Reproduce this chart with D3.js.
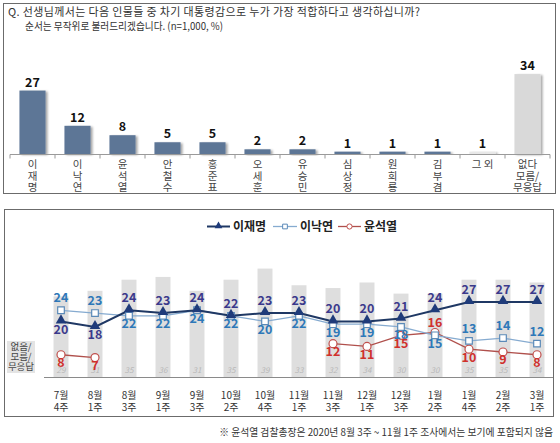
<!DOCTYPE html>
<html><head><meta charset="utf-8">
<script src="https://cdn.jsdelivr.net/npm/d3@7"></script>
<style>
html,body{margin:0;padding:0;background:#fff;}
text{font-family:"Noto Sans CJK KR","Noto Sans",sans-serif;}
</style></head>
<body>
<svg id="chart" width="560" height="443"></svg>
<script>
// ---------- Data ----------
const questionLines = ["Q. 선생님께서는 다음 인물들 중 차기 대통령감으로 누가 가장 적합하다고 생각하십니까?",
                       "순서는 무작위로 불러드리겠습니다. (n=1,000, %)"];
const topCategories = ["이재명","이낙연","윤석열","안철수","홍준표","오세훈","유승민","심상정","원희룡","김부겸","그 외","없다/모름/무응답"];
const topValues = [27,12,8,5,5,2,2,1,1,1,1,34];

const periods = ["7월 4주","8월 1주","8월 3주","9월 1주","9월 3주","10월 2주","10월 4주","11월 1주","11월 3주","12월 1주","12월 3주","1월 2주","1월 4주","2월 2주","3월 1주"];
const leeJM   = [20,18,24,23,24,22,23,23,20,20,21,24,27,27,27];
const leeNY   = [24,23,22,22,24,22,20,22,19,19,18,15,13,14,12];
const yoonSY  = [8,7,null,null,null,null,null,null,12,11,15,16,10,9,8];
const noneVal = [29,31,35,36,31,35,39,33,32,34,30,30,35,35,34];
const seriesNames = ["이재명","이낙연","윤석열"];
const footnote = "※ 윤석열 검찰총장은 2020년 8월 3주 ~ 11월 1주 조사에서는 보기에 포함되지 않음";

// ---------- Setup ----------
const svg = d3.select("#chart");
const defs = svg.append("defs");
const f = defs.append("filter").attr("id","sh").attr("x","-20%").attr("y","-20%").attr("width","150%").attr("height","150%");
f.append("feDropShadow").attr("dx",2).attr("dy",1).attr("stdDeviation",1).attr("flood-color","#000").attr("flood-opacity",0.35);

svg.append("rect").attr("width",560).attr("height",443).attr("fill","#fff");

// ---------- Top panel ----------
svg.append("rect").attr("x",3.5).attr("y",3.5).attr("width",552).attr("height",190)
  .attr("fill","none").attr("stroke","#6b6b6b").attr("stroke-width",1);

svg.append("text").attr("x",8).attr("y",16).attr("font-size",11).attr("fill","#333")
  .attr("textLength",412).attr("lengthAdjust","spacing").text(questionLines[0]);
svg.append("text").attr("x",25).attr("y",30).attr("font-size",10.5).attr("fill","#333")
  .attr("textLength",198).attr("lengthAdjust","spacingAndGlyphs").text(questionLines[1]);

const xT = d3.scaleBand().domain(topCategories).range([10,550]).paddingInner(0.42).paddingOuter(0.21);
const yT = d3.scaleLinear().domain([0,40]).range([154,60]);

const barFill = (d,i) => i === 10 ? "#e8e8e8" : (i === 11 ? "#d9d9d9" : "#5d7696");
svg.append("g").selectAll("rect").data(topValues).join("rect")
  .attr("x",(d,i)=>xT(topCategories[i]))
  .attr("y",d=>yT(d))
  .attr("width",xT.bandwidth())
  .attr("height",d=>yT(0)-yT(d))
  .attr("fill",barFill)
  .attr("filter","url(#sh)");

svg.append("g").selectAll("text").data(topValues).join("text")
  .attr("x",(d,i)=>xT(topCategories[i])+xT.bandwidth()/2)
  .attr("y",d=>yT(d)-4)
  .attr("text-anchor","middle").attr("font-size",12.5).attr("font-weight",700).attr("fill","#111")
  .text(d=>d);

// axis line + ticks
const axT = svg.append("g");
axT.append("line").attr("x1",10).attr("x2",550).attr("y1",154.5).attr("y2",154.5).attr("stroke","#9a9a9a");
axT.selectAll("line.tk").data(d3.range(topCategories.length+1)).join("line").attr("class","tk")
  .attr("x1",i=>10+xT.step()*i).attr("x2",i=>10+xT.step()*i)
  .attr("y1",154.5).attr("y2",158.5).attr("stroke","#9a9a9a");

// category labels (vertical stacking)
const catG = svg.append("g").attr("font-size",10.5).attr("fill","#444").attr("text-anchor","middle");
topCategories.forEach((c,i)=>{
  const cx = xT(c)+xT.bandwidth()/2;
  let lines;
  if (c === "그 외") lines = ["그 외"];
  else if (c.includes("/")) lines = ["없다","모름/","무응답"];
  else lines = c.split("");
  const t = catG.append("text").attr("x",cx).attr("y",168);
  lines.forEach((l,k)=>t.append("tspan").attr("x",cx).attr("y",168+k*11.5).text(l));
});

// ---------- Bottom panel ----------
svg.append("rect").attr("x",4.5).attr("y",209.5).attr("width",549).attr("height",207)
  .attr("fill","none").attr("stroke","#6b6b6b").attr("stroke-width",1);

const xB = d3.scaleBand().domain(periods).range([44,554]).paddingInner(0.56).paddingOuter(0.28);
const yB = d3.scaleLinear().domain([0,50]).range([377,238]);
const cx = i => xB(periods[i]) + xB.bandwidth()/2;

// gray bars
svg.append("g").selectAll("rect").data(noneVal).join("rect")
  .attr("x",(d,i)=>xB(periods[i])).attr("y",d=>yB(d))
  .attr("width",xB.bandwidth()).attr("height",d=>yB(0)-yB(d))
  .attr("fill","#dedede");
svg.append("g").selectAll("text").data(noneVal).join("text")
  .attr("x",(d,i)=>cx(i)).attr("y",373)
  .attr("text-anchor","middle").attr("font-size",8).attr("font-style","italic").attr("fill","#b8b8b8")
  .text(d=>d);

svg.append("line").attr("x1",44).attr("x2",553).attr("y1",377.5).attr("y2",377.5).attr("stroke","#8a8a8a");

// left label
svg.append("rect").attr("x",7).attr("y",341).attr("width",28).attr("height",32).attr("fill","#e4e4e4");
const ll = svg.append("text").attr("font-size",9.5).attr("fill","#444").attr("text-anchor","middle");
["없음/","모름/","무응답"].forEach((l,k)=>ll.append("tspan").attr("x",21).attr("y",350+k*10).text(l));

// x labels
const xl = svg.append("g").attr("font-size",10).attr("fill","#333").attr("text-anchor","middle");
periods.forEach((p,i)=>{
  const parts = p.split(" ");
  const t = xl.append("text");
  parts.forEach((s,k)=>t.append("tspan").attr("x",cx(i)).attr("y",399+k*12).text(s));
});

// lines
const lineGen = d3.line().defined(d=>d!=null).x((d,i)=>cx(i)).y(d=>yB(d));
svg.append("path").datum(yoonSY).attr("d",lineGen).attr("fill","none").attr("stroke","#b0504c").attr("stroke-width",1.3);
svg.append("path").datum(leeNY).attr("d",lineGen).attr("fill","none").attr("stroke","#86abd0").attr("stroke-width",1.3);
svg.append("path").datum(leeJM).attr("d",lineGen).attr("fill","none").attr("stroke","#1f3864").attr("stroke-width",2);

const tri = d3.symbol().type(d3.symbolTriangle).size(48);
const sq = d3.symbol().type(d3.symbolSquare).size(44);

// yoon markers
svg.append("g").selectAll("circle").data(yoonSY.map((v,i)=>({v,i})).filter(d=>d.v!=null)).join("circle")
  .attr("cx",d=>cx(d.i)).attr("cy",d=>yB(d.v)).attr("r",4)
  .attr("fill","#fff").attr("stroke","#c0504d").attr("stroke-width",1.2);
// lee ny markers
svg.append("g").selectAll("path").data(leeNY).join("path")
  .attr("d",sq).attr("transform",(d,i)=>`translate(${cx(i)},${yB(d)})`)
  .attr("fill","#fff").attr("stroke","#5b8ab8").attr("stroke-width",1.2);
// lee jm markers
svg.append("g").selectAll("path").data(leeJM).join("path")
  .attr("d",tri).attr("transform",(d,i)=>`translate(${cx(i)},${yB(d)-1})`)
  .attr("fill","#1f3b7a");

// labels
const lab = svg.append("g").attr("font-size",12.5).attr("font-weight",700).attr("text-anchor","middle");
const ABOVE = -8, BELOW = 12.5;
leeJM.forEach((v,i)=>{
  const up = v >= leeNY[i];
  lab.append("text").attr("x",cx(i)).attr("y",yB(v)+(up?ABOVE:BELOW)).attr("fill","#3b3a8c").text(v);
});
leeNY.forEach((v,i)=>{
  const up = v > leeJM[i] || (leeJM[i] - v >= 10);
  lab.append("text").attr("x",cx(i)).attr("y",yB(v)+(up?ABOVE:BELOW)).attr("fill","#2e78b8").text(v);
});
yoonSY.forEach((v,i)=>{
  if (v==null) return;
  const up = v > leeNY[i];
  lab.append("text").attr("x",cx(i)).attr("y",yB(v)+(up?ABOVE+2:BELOW)).attr("fill","#d0302c").text(v);
});

// legend
const lg = svg.append("g");
const legendItems = [
  {name:seriesNames[0], x1:207, x2:230, color:"#1f3864", w:2, mk:"tri"},
  {name:seriesNames[1], x1:273, x2:297, color:"#86abd0", w:1.3, mk:"sq"},
  {name:seriesNames[2], x1:338, x2:361, color:"#b0504c", w:1.3, mk:"ci"}
];
legendItems.forEach(it=>{
  lg.append("line").attr("x1",it.x1).attr("x2",it.x2).attr("y1",226.5).attr("y2",226.5).attr("stroke",it.color).attr("stroke-width",it.w);
  const m = (it.x1+it.x2)/2;
  if (it.mk==="tri") lg.append("path").attr("d",d3.symbol().type(d3.symbolTriangle).size(26)).attr("transform",`translate(${m},226)`).attr("fill","#1f3b7a");
  if (it.mk==="sq") lg.append("path").attr("d",d3.symbol().type(d3.symbolSquare).size(22)).attr("transform",`translate(${m},226.5)`).attr("fill","#fff").attr("stroke","#5b8ab8");
  if (it.mk==="ci") lg.append("circle").attr("cx",m).attr("cy",226.5).attr("r",2.6).attr("fill","#fff").attr("stroke","#c0504d");
  lg.append("text").attr("x",it.x2+3).attr("y",231).attr("font-size",12).attr("font-weight",700).attr("fill","#222").text(it.name);
});

// footnote
svg.append("text").attr("x",553).attr("y",436).attr("text-anchor","end").attr("font-size",9.8).attr("fill","#333").text(footnote);
</script>
</body></html>
